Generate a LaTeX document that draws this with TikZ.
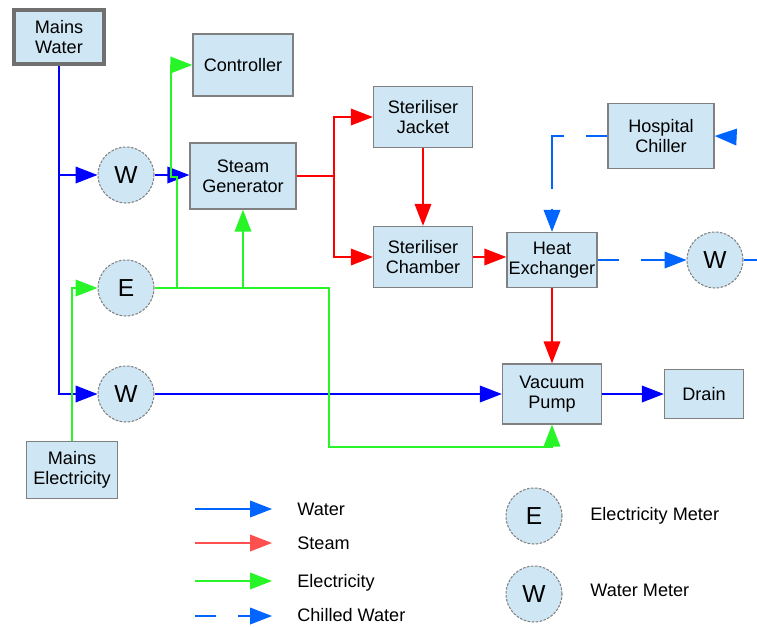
\documentclass[tikz,border=0pt]{standalone}
\usepackage{fontspec}
\setmainfont{Liberation Sans}
\usetikzlibrary{arrows.meta, positioning}

\definecolor{boxfill}{RGB}{207,231,245}
\definecolor{boxline}{RGB}{128,128,128}
\definecolor{mainsline}{RGB}{112,112,112}
\definecolor{waterblue}{RGB}{0,0,255}
\definecolor{chillblue}{RGB}{0,100,255}
\definecolor{steamred}{RGB}{255,0,0}
\definecolor{legred}{RGB}{255,80,80}
\definecolor{elecgreen}{RGB}{40,245,40}

\tikzset{
  unit/.style={draw=boxline, fill=boxfill, line width=0.8pt, align=center, inner sep=1pt},
  meter/.style={circle, draw=boxline, fill=boxfill, dash pattern=on 1.5pt off 0.8pt,
    line width=0.6pt, minimum size=1.12cm, inner sep=0pt, font=\fontsize{14}{16}\selectfont},
  flow/.style={line width=0.8pt, -{Triangle[length=12.5pt,width=9.5pt]}},
  water/.style={flow, waterblue},
  legwater/.style={flow, chillblue},
  steamline/.style={flow, steamred},
  legsteam/.style={flow, legred},
  elec/.style={flow, elecgreen},
  chilled/.style={flow, chillblue, dash pattern=on 0.42cm off 0.44cm on 1.3cm off 0.4cm},
  legtext/.style={anchor=west, inner sep=0pt, text height=7.4pt, text depth=0pt}
}

\begin{document}
\begin{tikzpicture}[x=0.02cm, y=-0.02cm, font=\fontsize{10.3}{11.5}\selectfont]
  \useasboundingbox (0,0) rectangle (757,626);

  % Plant units
  \node[unit, draw=mainsline, line width=2.2pt, minimum width=1.8cm, minimum height=1.08cm] (mainsW) at (59,37) {Mains\\Water};
  \node[unit, minimum width=2.0cm, minimum height=1.24cm] (ctrl) at (243,65) {Controller};
  \node[unit, minimum width=2.12cm, minimum height=1.32cm] (steam) at (243,176) {Steam\\Generator};
  \node[unit, minimum width=1.98cm, minimum height=1.22cm] (jacket) at (423,117) {Steriliser\\Jacket};
  \node[unit, minimum width=1.98cm, minimum height=1.22cm] (chamber) at (423,257) {Steriliser\\Chamber};
  \node[unit, minimum width=1.76cm, minimum height=1.1cm] (hx) at (552,260) {Heat\\Exchanger};
  \node[unit, minimum width=2.12cm, minimum height=1.3cm] (chiller) at (661,136) {Hospital\\Chiller};
  \node[unit, minimum width=1.98cm, minimum height=1.2cm] (pump) at (552,394) {Vacuum\\Pump};
  \node[unit, minimum width=1.58cm, minimum height=0.98cm] (drain) at (704,394) {Drain};
  \node[unit, minimum width=1.82cm, minimum height=1.14cm] (mainsE) at (72,470) {Mains\\Electricity};

  % Meters
  \node[meter] (wA) at (126,175) {W};
  \node[meter] (eA) at (126,288) {E};
  \node[meter] (wB) at (126,394) {W};
  \node[meter] (wC) at (715,260) {W};

  % Water
  \draw[water] (mainsW.south) |- (wB.west);
  \draw[water] (mainsW.south |- wA.west) -- (wA.west);
  \draw[water] (wA.east) -- (wA.east -| steam.west);
  \draw[water] (wB.east) -- (pump.west);
  \draw[water] (pump.east) -- (drain.west);

  % Electricity
  \draw[elec] (mainsE.north) |- (eA.west);
  \coordinate (eJoin) at (329,447);
  \draw[elec] (eA.east) -| (eJoin) -| (pump.south);
  \draw[elec] (eA.east -| steam.south) -- (steam.south);
  \coordinate (eUp) at (177,288);
  \draw[elec] (eUp) -- ++(0,-111) -- ++(-6,0) |- (ctrl.west);

  % Steam
  \coordinate (sSplit) at (334,176);
  \draw[steamline, -] (steam.east) -- (sSplit);
  \draw[steamline] (sSplit) |- (jacket.west);
  \draw[steamline] (sSplit) |- (chamber.west);
  \draw[steamline] (jacket.south) -- (chamber.north);
  \draw[steamline] (chamber.east) -- (chamber.east -| hx.west);
  \draw[steamline] (hx.south) -- (pump.north);

  % Chilled water
  \draw[chilled] (chiller.west) -| (hx.north);
  \draw[chilled] (hx.east) -- (wC.west);
  \coordinate (cOut) at (757,260);
  \draw[chilled, -] (wC.east) -- (cOut);
  \coordinate (cIn) at (736,137);
  \draw[chilled] (cIn) -- (chiller.east);

  % Legend
  \coordinate (lgW) at (195,509);
  \draw[legwater] (lgW) -- ++(77,0);
  \node[legtext] (lgWt) at (297,509) {Water};
  \coordinate (lgS) at (195,543);
  \draw[legsteam] (lgS) -- ++(77,0);
  \node[legtext] (lgSt) at (297,543) {Steam};
  \coordinate (lgL) at (195,581);
  \draw[elec] (lgL) -- ++(77,0);
  \node[legtext] (lgLt) at (297,581) {Electricity};
  \coordinate (lgC) at (195,616);
  \draw[chilled] (lgC) -- ++(77,0);
  \node[legtext] (lgCt) at (297,615) {Chilled Water};

  \node[meter] (lgE) at (534,516) {E};
  \node[legtext] (lgEt) at (590,514) {Electricity Meter};
  \node[meter] (lgM) at (534,594) {W};
  \node[legtext] (lgMt) at (590,590) {Water Meter};
\end{tikzpicture}
\end{document}
